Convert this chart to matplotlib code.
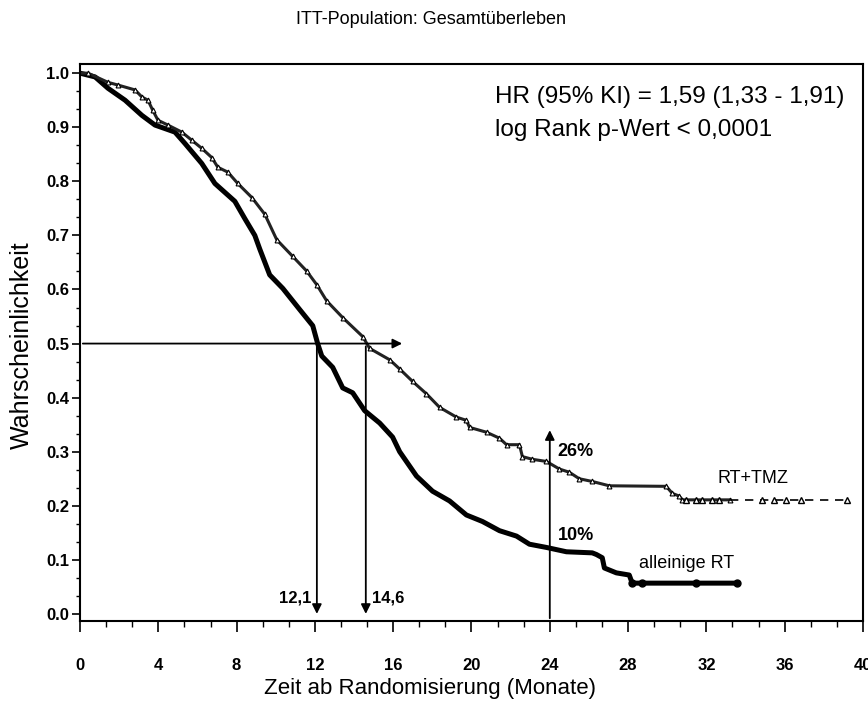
import numpy as np
import matplotlib
matplotlib.use("Agg")
import matplotlib.pyplot as plt
from matplotlib.ticker import MultipleLocator, FixedLocator

# Kaplan-Meier curves (months, survival)
rt_t = [0, 0.77, 1.43, 2.30, 3.16, 3.83, 4.85, 5.36, 6.22, 6.89, 7.91, 8.42,
        8.93, 9.18, 9.69, 10.36, 11.22, 11.89, 12.14, 12.35, 12.91, 13.42,
        13.93, 14.54, 15.31, 15.97, 16.33, 17.19, 18.01, 18.88, 19.74, 20.56,
        21.43, 22.30, 22.96, 23.83, 24.85, 26.17, 26.38, 26.68, 26.79, 27.40,
        28.06, 28.21, 33.57]
rt_s = [1.0, 0.993, 0.972, 0.95, 0.922, 0.904, 0.891, 0.87, 0.833, 0.796,
        0.763, 0.731, 0.70, 0.675, 0.627, 0.602, 0.563, 0.533, 0.50, 0.477,
        0.456, 0.418, 0.409, 0.376, 0.353, 0.327, 0.30, 0.255, 0.227, 0.209,
        0.183, 0.171, 0.154, 0.144, 0.129, 0.123, 0.115, 0.113, 0.11, 0.104,
        0.085, 0.076, 0.072, 0.057, 0.057]
rt_cens_t = [28.21, 28.72, 31.48, 33.57]

tmz_t = [0, 0.41, 1.43, 1.94, 2.81, 3.16, 3.47, 3.72, 3.98, 4.49, 5.2, 5.71,
         6.22, 6.73, 7.04, 7.55, 8.06, 8.78, 9.44, 10.05, 10.87, 11.58, 12.09,
         12.6, 13.42, 14.44, 14.8, 15.82, 16.33, 16.99, 17.7, 18.37, 19.23,
         19.74, 19.9, 20.77, 21.43, 21.79, 22.45, 22.6, 23.11, 23.83, 24.49,
         25.0, 25.51, 26.17, 27.04, 29.95, 30.26, 30.61, 30.77, 33.2]
tmz_s = [1.0, 1.0, 0.983, 0.978, 0.969, 0.956, 0.95, 0.931, 0.913, 0.904,
         0.891, 0.876, 0.861, 0.844, 0.826, 0.817, 0.796, 0.77, 0.739, 0.692,
         0.661, 0.634, 0.609, 0.579, 0.548, 0.513, 0.491, 0.47, 0.453, 0.43,
         0.407, 0.382, 0.364, 0.358, 0.345, 0.336, 0.325, 0.313, 0.313, 0.291,
         0.286, 0.282, 0.268, 0.262, 0.25, 0.245, 0.237, 0.236, 0.223, 0.218,
         0.211, 0.211]
tmz_tail_t = [33.2, 39.18]
tmz_tail_s = 0.211
tmz_cens_t = [30.97, 31.48, 31.79, 32.3, 32.65, 34.85, 35.46, 36.07, 36.84, 39.18]

median_rt = 12.1
median_tmz = 14.6

xticks = [0, 4, 8, 12, 16, 20, 24, 28, 32, 36, 40]
yticks = [0.0, 0.1, 0.2, 0.3, 0.4, 0.5, 0.6, 0.7, 0.8, 0.9, 1.0]

font = ['Liberation Sans', 'DejaVu Sans']
plt.rcParams['font.family'] = font

fig = plt.figure(figsize=(8.68, 7.06), dpi=100)
ax = fig.add_axes([0.0922, 0.1204, 0.902, 0.789])

# curves
ax.plot(rt_t, rt_s, color='black', lw=3.6, solid_joinstyle='round')
ax.plot(rt_cens_t, [rt_s[-1]] * len(rt_cens_t), 'o', color='black', ms=5)

ax.plot(tmz_t, tmz_s, color='#222222', lw=2.2)
ax.plot(tmz_t[1:], tmz_s[1:], '^', mfc='white', mec='black', mew=0.8, ms=3.5)
ax.plot(tmz_tail_t, [tmz_tail_s] * 2, color='black', lw=1.2, ls=(0, (5, 4)))
ax.plot(tmz_cens_t, [tmz_tail_s] * len(tmz_cens_t), '^', mfc='white',
        mec='black', mew=1.0, ms=4.5)

# median and 2-year arrows
arr = dict(arrowstyle='-|>', color='black', lw=1.3, mutation_scale=14)
ax.annotate('', xy=(16.6, 0.5), xytext=(0, 0.5), arrowprops=arr)
ax.annotate('', xy=(median_rt, -0.005), xytext=(median_rt, 0.5), arrowprops=arr)
ax.annotate('', xy=(median_tmz, -0.005), xytext=(median_tmz, 0.5), arrowprops=arr)
ax.annotate('', xy=(24, 0.345), xytext=(24, -0.013), arrowprops=arr)

ax.text(median_rt - 0.3, 0.03, '12,1', ha='right', va='center',
        fontsize=12, fontweight='bold')
ax.text(median_tmz + 0.3, 0.03, '14,6', ha='left', va='center',
        fontsize=12, fontweight='bold')
ax.text(24.4, 0.30, '26%', ha='left', va='center', fontsize=13,
        fontweight='bold')
ax.text(24.4, 0.146, '10%', ha='left', va='center', fontsize=13,
        fontweight='bold')
ax.text(34.4, 0.25, 'RT+TMZ', ha='center', va='center', fontsize=13)
ax.text(31.0, 0.094, 'alleinige RT', ha='center', va='center', fontsize=13)
ax.text(21.2, 0.955, 'HR (95% KI) = 1,59 (1,33 - 1,91)', ha='left',
        va='center', fontsize=17.5)
ax.text(21.2, 0.895, 'log Rank p-Wert < 0,0001', ha='left', va='center',
        fontsize=17.5)

# axes
ax.set_xlim(0, 40)
ax.set_ylim(-0.013, 1.017)
ax.xaxis.set_major_locator(FixedLocator(xticks))
ax.xaxis.set_minor_locator(MultipleLocator(4 / 3))
ax.yaxis.set_major_locator(FixedLocator(yticks))
ax.yaxis.set_minor_locator(MultipleLocator(0.1 / 3))
ax.set_xticklabels([str(v) for v in xticks], fontsize=12, fontweight='bold')
ax.set_yticklabels([f'{v:.1f}' for v in yticks], fontsize=12,
                   fontweight='bold')
ax.tick_params(axis='x', which='major', length=8, width=1.2, pad=19)
ax.tick_params(axis='x', which='minor', length=4, width=1.0)
ax.tick_params(axis='y', which='major', length=6, width=1.2, pad=2)
ax.tick_params(axis='y', which='minor', length=3, width=1.0)
for sp in ax.spines.values():
    sp.set_linewidth(1.5)

ax.text(0.447, -0.122, 'Zeit ab Randomisierung (Monate)', transform=ax.transAxes,
        ha='center', va='center', fontsize=16)
ax.text(-0.074, 0.495, 'Wahrscheinlichkeit', transform=ax.transAxes,
        ha='center', va='center', rotation=90, fontsize=18)
fig.text(431 / 868, 1 - 20 / 706, 'ITT-Population: Gesamtüberleben',
         ha='center', va='center', fontsize=13)

fig.savefig('out.png', dpi=100)
